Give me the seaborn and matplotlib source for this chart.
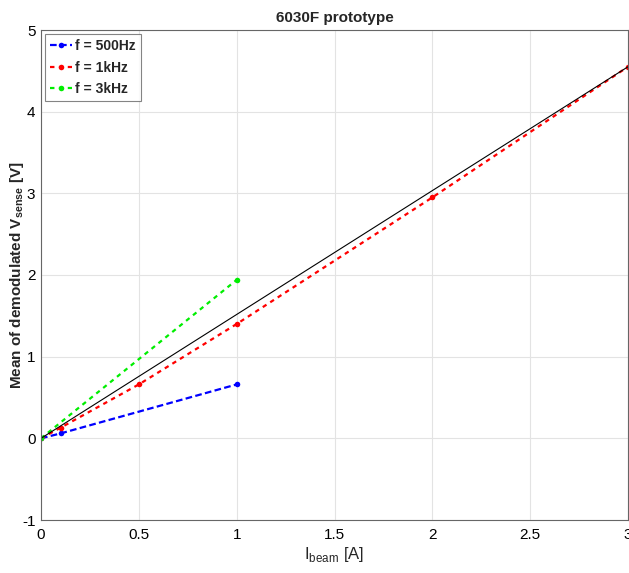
import matplotlib
matplotlib.use("Agg")
import matplotlib.pyplot as plt
import seaborn as sns
import pandas as pd

# data
x_500 = [0, 0.1, 1]
y_500 = [0, 0.06, 0.66]
x_1k = [0, 0.1, 0.5, 1, 2, 3]
y_1k = [0, 0.13, 0.66, 1.40, 2.95, 4.55]
x_3k = [0, 1]
y_3k = [0, 1.94]
x_ref = [0, 3]
y_ref = [0, 4.55]
labels = ["f = 500Hz", "f = 1kHz", "f = 3kHz"]
colors = ["#0000ff", "#ff0000", "#00ee00"]

sns.set_theme(style="whitegrid")
plt.rcParams['font.family'] = ['Liberation Sans', 'DejaVu Sans']
plt.rcParams['axes.unicode_minus'] = False
plt.rcParams['mathtext.fontset'] = 'custom'
plt.rcParams['mathtext.rm'] = 'Liberation Sans'
plt.rcParams['mathtext.bf'] = 'Liberation Sans:bold'

fig = plt.figure(figsize=(6.29, 5.73), dpi=100)
ax = fig.add_axes([41/629, 1-520/573, 587/629, 490/573])

df = pd.concat([
    pd.DataFrame({"x": x_500, "y": y_500, "s": labels[0]}),
    pd.DataFrame({"x": x_1k, "y": y_1k, "s": labels[1]}),
    pd.DataFrame({"x": x_3k, "y": y_3k, "s": labels[2]}),
])
styles = [(0, (3, 1.5)), (0, (2, 2)), (0, (2, 2))]
for lab, col, ls in zip(labels, colors, styles):
    d = df[df.s == lab]
    sns.lineplot(data=d, x="x", y="y", ax=ax, color=col, linestyle=ls, lw=1.6,
                 marker="o", markersize=4, markeredgewidth=0, label=lab, sort=False)
sns.lineplot(x=x_ref, y=y_ref, ax=ax, color="black", lw=0.8, label=None)

ax.set_xlim(0, 3)
ax.set_ylim(-1, 5)
ax.set_xticks([0, 0.5, 1, 1.5, 2, 2.5, 3])
ax.set_xticklabels(["0", "0.5", "1", "1.5", "2", "2.5", "3"])
ax.set_yticks([-1, 0, 1, 2, 3, 4, 5])
ax.set_yticklabels(["-1", "0", "1", "2", "3", "4", "5"])
ax.tick_params(labelsize=11, direction="in", length=3, colors="#333333")
ax.tick_params(axis="y", pad=4)
ax.tick_params(axis="x", pad=6)
for t in ax.get_xticklabels() + ax.get_yticklabels():
    t.set_color("black")
ax.grid(True, color="#e3e3e3", lw=0.8)
for sp in ax.spines.values():
    sp.set_color("#666666")
    sp.set_linewidth(0.8)
ax.set_facecolor("white")

ax.set_xlabel(r"I$_{\mathrm{beam}}$ [A]", fontsize=12, labelpad=2)
ax.set_ylabel(r"Mean of demodulated V$_{\mathbf{sense}}$ [V]", fontsize=11,
              fontweight="bold", labelpad=0)
ax.yaxis.set_label_coords(-15/587, 0.5)
ax.set_title("6030F prototype", fontsize=11, fontweight="bold", pad=6)

leg = ax.legend(loc="upper left", fontsize=10, frameon=True, fancybox=False,
                handlelength=1.6, handletextpad=0.2, borderpad=0.35,
                labelspacing=0.55, borderaxespad=0.3)
leg.get_frame().set_edgecolor("#666666")
leg.get_frame().set_linewidth(0.8)
for t in leg.get_texts():
    t.set_fontweight("bold")

fig.savefig("out.png", dpi=100, facecolor="white")
